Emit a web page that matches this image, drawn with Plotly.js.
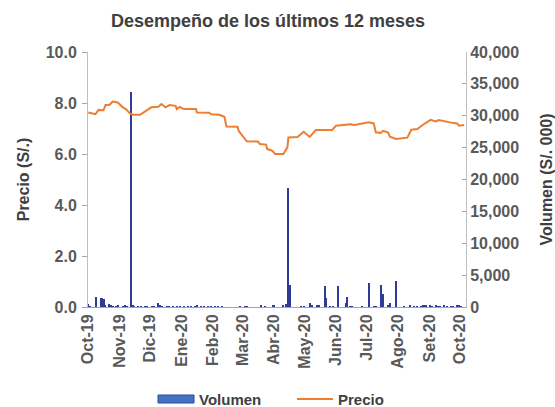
<!DOCTYPE html>
<html>
<head>
<meta charset="utf-8">
<script src="https://cdn.plot.ly/plotly-3.0.1.min.js"></script>
<style>html,body{margin:0;padding:0;background:#fff;}#chart{width:555px;height:407px;}</style>
</head>
<body>
<div id="chart"></div>
<script>
const priceDates = ['2019-10-01','2019-10-08','2019-10-11','2019-10-16','2019-10-18','2019-10-22','2019-10-25','2019-10-30',
  '2019-11-04','2019-11-07','2019-11-11','2019-11-14','2019-11-21','2019-11-26','2019-12-02','2019-12-09','2019-12-12',
  '2019-12-16','2019-12-20','2019-12-26','2019-12-27','2019-12-30','2020-01-03','2020-01-15','2020-01-16','2020-01-28',
  '2020-01-30','2020-02-07','2020-02-12','2020-02-14','2020-02-25','2020-02-26','2020-03-02','2020-03-05','2020-03-16',
  '2020-03-18','2020-03-24','2020-03-25','2020-03-30','2020-04-02','2020-04-10','2020-04-14','2020-04-15','2020-04-24',
  '2020-04-30','2020-05-06','2020-05-12','2020-05-28','2020-06-01','2020-06-11','2020-06-15','2020-06-19','2020-06-26',
  '2020-07-03','2020-07-08','2020-07-10','2020-07-15','2020-07-17','2020-07-22','2020-07-24','2020-07-30','2020-08-10',
  '2020-08-14','2020-08-20','2020-08-24','2020-08-27','2020-09-02','2020-09-07','2020-09-10','2020-09-21','2020-09-28',
  '2020-09-30','2020-10-05'];
const priceValues = [7.63,7.56,7.73,7.72,7.92,7.93,8.06,8.02,
  7.83,7.76,7.59,7.54,7.54,7.67,7.83,7.85,7.96,
  7.83,7.92,7.89,7.76,7.85,7.76,7.76,7.63,7.62,
  7.56,7.54,7.46,7.08,7.07,6.91,6.65,6.50,6.49,
  6.39,6.37,6.20,6.13,6.00,6.00,6.26,6.65,6.67,
  6.87,6.67,6.94,6.94,7.11,7.14,7.17,7.14,7.18,
  7.24,7.20,6.85,6.83,6.91,6.85,6.68,6.59,6.64,
  6.95,6.98,7.11,7.18,7.34,7.28,7.33,7.24,7.20,
  7.11,7.14];

const volDates = ['2019-10-01','2019-10-03','2019-10-09','2019-10-14','2019-10-16','2019-10-17','2019-10-21','2019-10-23',
  '2019-10-25','2019-10-28','2019-10-30','2019-11-04','2019-11-06','2019-11-08','2019-11-12','2019-11-14','2019-11-15',
  '2019-11-19','2019-11-22','2019-11-26','2019-11-28','2019-12-03','2019-12-05','2019-12-09','2019-12-11','2019-12-13',
  '2019-12-17','2019-12-19','2019-12-23','2019-12-27','2019-12-30','2020-01-03','2020-01-07','2020-01-10','2020-01-14',
  '2020-01-16','2020-01-20','2020-01-23','2020-01-27','2020-01-30','2020-02-03','2020-02-06','2020-02-10','2020-02-27',
  '2020-03-03','2020-03-05','2020-03-19','2020-03-23','2020-03-31','2020-04-01','2020-04-10','2020-04-13','2020-04-15',
  '2020-04-17','2020-04-27','2020-04-30','2020-05-06','2020-05-08','2020-05-13','2020-05-15','2020-05-21','2020-05-22',
  '2020-05-26','2020-05-29','2020-06-03','2020-06-11','2020-06-12','2020-06-15','2020-06-17','2020-06-26','2020-07-03',
  '2020-07-08','2020-07-10','2020-07-15','2020-07-17','2020-07-22','2020-07-24','2020-07-30','2020-08-07','2020-08-13',
  '2020-08-17','2020-08-20','2020-08-24','2020-08-26','2020-08-28','2020-09-01','2020-09-03','2020-09-07','2020-09-09',
  '2020-09-11','2020-09-15','2020-09-18','2020-09-22','2020-09-24','2020-09-28','2020-09-30','2020-10-02'];
const volValues = [400,150,1500,1350,1200,300,500,250,
  200,200,250,200,250,150,33800,300,150,
  200,150,200,150,150,200,550,300,200,
  200,200,150,200,150,200,200,150,200,
  300,200,200,200,150,200,150,200,200,
  200,150,250,200,300,300,300,400,18600,
  3400,200,200,700,300,300,250,3300,1400,
  200,200,3300,600,1600,200,200,200,3700,
  200,200,3500,2100,300,600,4050,150,300,
  200,200,200,250,300,300,200,300,200,
  200,250,150,200,150,250,250,200];

const monthTicks = ['2019-10-01','2019-11-01','2019-12-01','2020-01-01','2020-02-01','2020-03-01','2020-04-01',
  '2020-05-01','2020-06-01','2020-07-01','2020-08-01','2020-09-01','2020-10-01'];
const monthLabels = ['Oct-19','Nov-19','Dic-19','Ene-20','Feb-20','Mar-20','Abr-20','May-20','Jun-20','Jul-20','Ago-20','Set-20','Oct-20'];

const FONT = 'Liberation Sans, Arial, sans-serif';
const TXT = '#404040';
const TICK = '#595959';

const traces = [
  {type:'bar', name:'Volumen', x:volDates, y:volValues, yaxis:'y',
   width:2*86400000, marker:{color:'#2E3C97', line:{width:0}}, showlegend:false},
  {type:'scatter', mode:'lines', name:'Precio', x:priceDates, y:priceValues, yaxis:'y2',
   line:{color:'#ED7D31', width:2}, showlegend:false}
];

const layout = {
  width:555, height:407,
  margin:{l:88, r:89, t:52, b:100},
  paper_bgcolor:'#fff', plot_bgcolor:'#fff',
  font:{family:FONT, color:TXT},
  title:{text:'<b>Desempeño de los últimos 12 meses</b>', font:{size:18, color:TXT, family:FONT},
         x:268/555, xref:'container', xanchor:'center', y:0.95, yref:'container', yanchor:'middle'},
  showlegend:false,
  bargap:0,
  xaxis:{type:'date', range:['2019-09-30T17:00','2020-10-06T20:00'], tickvals:monthTicks, ticktext:monthLabels,
         tickangle:-90, tickfont:{size:16, color:TICK, family:FONT, weight:'bold'}, showgrid:false, zeroline:false,
         showline:true, linecolor:'#A6A6A6', linewidth:1, ticks:'', fixedrange:true},
  yaxis:{side:'right', range:[0,40000], dtick:5000, tickformat:',d', showgrid:false, zeroline:false,
         showline:true, linecolor:'#BFBFBF', linewidth:1, ticks:'inside', ticklen:4, tickcolor:'#A6A6A6',
         tickfont:{size:16, color:TICK, family:FONT, weight:'bold'},
         title:{text:'<b>Volumen (S/. 000)</b>', font:{size:16, color:TXT, family:FONT}, standoff:22}},
  yaxis2:{overlaying:'y', side:'left', range:[0,10], dtick:2, tickformat:'.1f', showgrid:false, zeroline:false,
         showline:true, linecolor:'#BFBFBF', linewidth:1, ticks:'outside', ticklen:5, tickcolor:'#A6A6A6',
         ticklabelstandoff:2,
         tickfont:{size:16, color:TICK, family:FONT, weight:'bold'},
         title:{text:'<b>Precio (S/.)</b>', font:{size:16, color:TXT, family:FONT}, standoff:12}},
  shapes:[
    {type:'rect', xref:'paper', yref:'paper', x0:(158-88)/378, x1:(194-88)/378, y0:(307-403)/255, y1:(307-395)/255,
     fillcolor:'#4472C4', line:{color:'#2F4A9A', width:1}},
    {type:'line', xref:'paper', yref:'paper', x0:(297-88)/378, x1:(333-88)/378, y0:(307-399)/255, y1:(307-399)/255,
     line:{color:'#ED7D31', width:2}}
  ],
  annotations:[
    {xref:'paper', yref:'paper', x:(197-88)/378, y:(307-399)/255, xanchor:'left', yanchor:'middle', showarrow:false,
     text:'<b>Volumen</b>', font:{size:15, color:TXT, family:FONT}},
    {xref:'paper', yref:'paper', x:(336-88)/378, y:(307-399)/255, xanchor:'left', yanchor:'middle', showarrow:false,
     text:'<b>Precio</b>', font:{size:15, color:TXT, family:FONT}}
  ]
};

Plotly.newPlot('chart', traces, layout, {displayModeBar:false, staticPlot:true});
</script>
</body>
</html>
